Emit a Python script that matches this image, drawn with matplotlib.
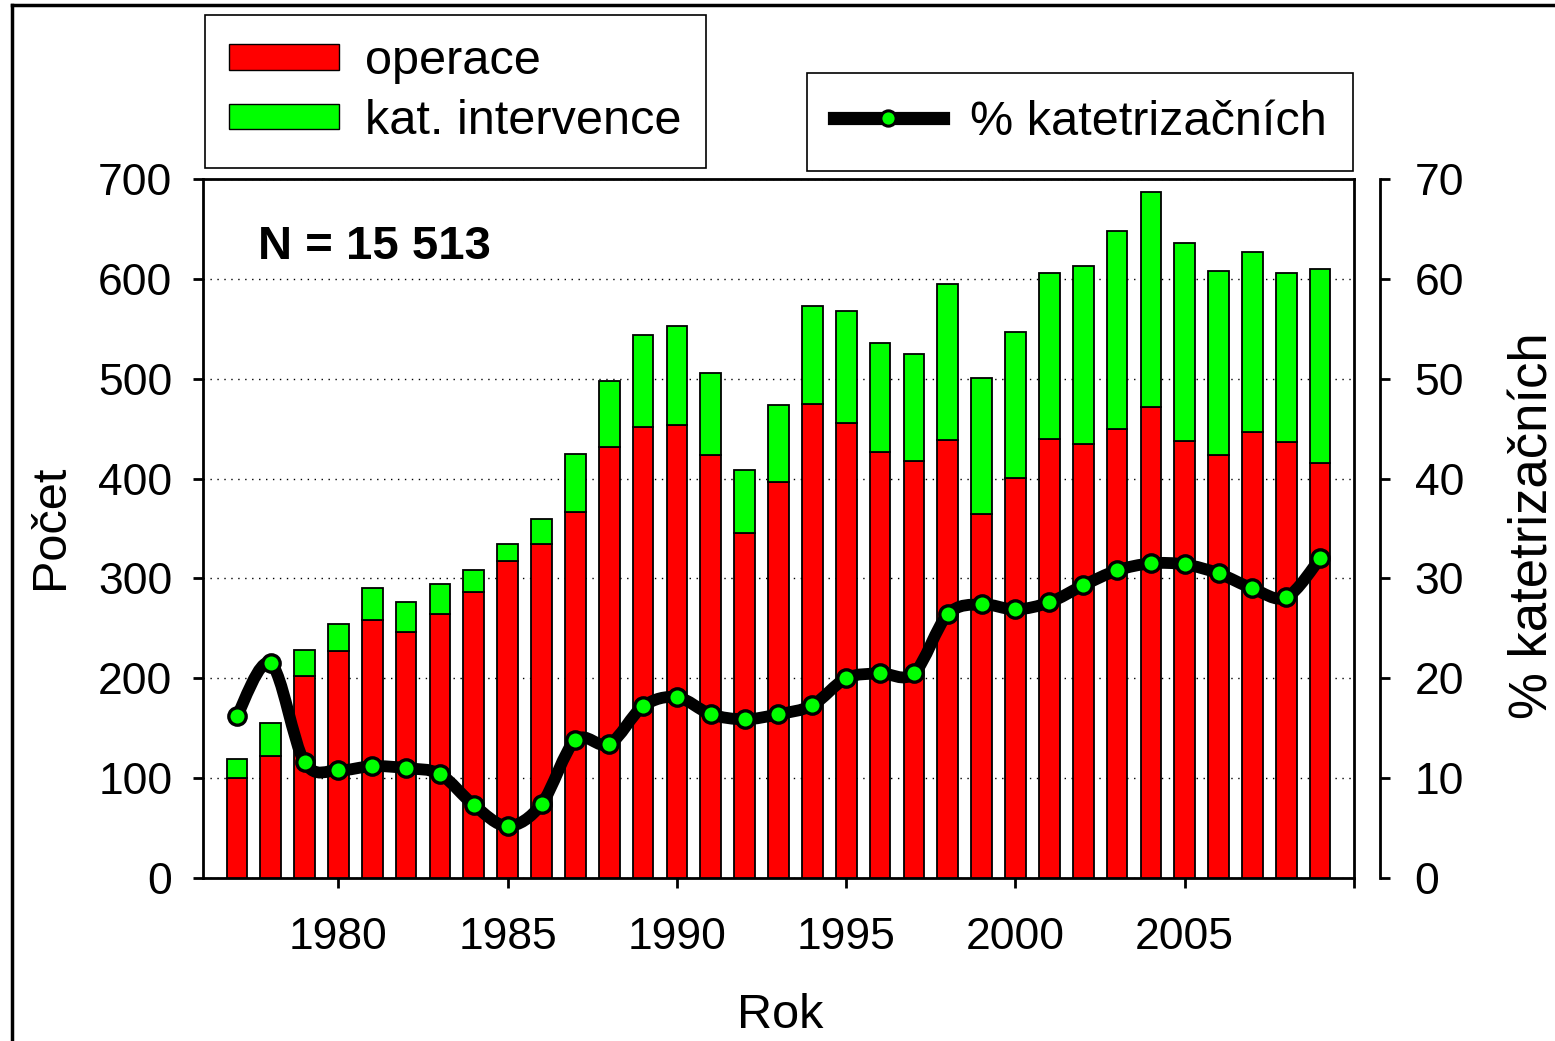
import numpy as np
import matplotlib
matplotlib.use("Agg")
import matplotlib.pyplot as plt
from matplotlib.path import Path
from matplotlib.patches import PathPatch, Patch
from matplotlib.lines import Line2D

plt.rcParams['font.family'] = ['Liberation Sans', 'DejaVu Sans']

years = list(range(1977, 2010))
operace = [100, 122, 202, 227, 258, 246, 264, 286, 317, 334,
           367, 432, 452, 454, 424, 345, 397, 475, 456, 427,
           418, 439, 365, 401, 440, 435, 450, 472, 438, 424,
           447, 437, 416]
intervence = [19, 33, 26, 27, 32, 30, 30, 22, 17, 26,
              58, 66, 92, 99, 82, 64, 77, 98, 112, 109,
              107, 156, 136, 146, 166, 178, 198, 215, 198, 184,
              180, 169, 194]
pct_kat = [16.2, 21.5, 11.6, 10.8, 11.2, 11.0, 10.4, 7.3, 5.2, 7.4,
           13.8, 13.4, 17.2, 18.1, 16.4, 15.9, 16.4, 17.3, 20.0, 20.5,
           20.5, 26.4, 27.4, 26.9, 27.6, 29.3, 30.8, 31.5, 31.4, 30.5,
           29.0, 28.1, 32.0]
xticks = [1980, 1985, 1990, 1995, 2000, 2005, 2010]
xticklabels = ['1980', '1985', '1990', '1995', '2000', '2005', '']
yticks_left = [0, 100, 200, 300, 400, 500, 600, 700]
yticks_right = [0, 10, 20, 30, 40, 50, 60, 70]

RED = '#ff0000'
GREEN = '#00ff00'

W, H = 1555, 1041
fig = plt.figure(figsize=(W / 100, H / 100), dpi=100)
L, R, B, T = 203, 1354, 878, 179
ax = fig.add_axes([L / W, 1 - B / H, (R - L) / W, (B - T) / H])

ax.bar(years, operace, width=0.61, color=RED, edgecolor='black', linewidth=1.3, zorder=3)
ax.bar(years, intervence, width=0.61, bottom=operace, color=GREEN, edgecolor='black',
       linewidth=1.3, zorder=3)

ax.set_xlim(1976, 2010)
ax.set_ylim(0, 700)
ax.set_yticks(yticks_left)
ax.set_xticks(xticks)
ax.set_xticklabels(xticklabels)
ax.yaxis.grid(True, linestyle=(0, (1, 4)), color='black', linewidth=1.0)
for s in ax.spines.values():
    s.set_linewidth(2)
ax.tick_params(axis='both', direction='out', length=7, width=2, labelsize=32)
ax.tick_params(axis='y', pad=15)
ax.tick_params(axis='x', pad=21)

ax2 = ax.twinx()
ax2.set_ylim(0, 70)
ax2.set_yticks(yticks_right)
for k in ['left', 'top', 'bottom']:
    ax2.spines[k].set_visible(False)
ax2.spines['right'].set_position(('outward', 26 * 0.72))
ax2.spines['right'].set_linewidth(2)
ax2.tick_params(axis='y', direction='out', length=7, width=2, labelsize=32, pad=18)

# smooth curve (Catmull-Rom as cubic Bezier) through the percentage points
xs = np.array(years, dtype=float)
ys = np.array(pct_kat, dtype=float)
P = np.column_stack([xs, ys])
Pext = np.vstack([P[0], P, P[-1]])
verts = [tuple(P[0])]
codes = [Path.MOVETO]
for i in range(1, len(Pext) - 2):
    p0, p1, p2, p3 = Pext[i - 1], Pext[i], Pext[i + 1], Pext[i + 2]
    c1 = p1 + (p2 - p0) / 6.0
    c2 = p2 - (p3 - p1) / 6.0
    verts += [tuple(c1), tuple(c2), tuple(p2)]
    codes += [Path.CURVE4] * 3
curve = PathPatch(Path(verts, codes), facecolor='none', edgecolor='black', linewidth=8.5,
                  capstyle='round', joinstyle='round', zorder=4)
ax2.add_patch(curve)
ax2.plot(years, pct_kat, linestyle='none', marker='o', markersize=12.5,
         markerfacecolor=GREEN, markeredgecolor='black', markeredgewidth=2.4, zorder=5)

ax.text(0.048, 0.885, 'N = 15 513', transform=ax.transAxes, fontsize=34,
        fontweight='bold', ha='left', va='baseline')

fig.text(63 / W, 1 - 527 / H, 'Počet', rotation=90, rotation_mode='anchor',
         ha='center', va='baseline', fontsize=35)
fig.text(780 / W, 1 - 1028 / H, 'Rok', ha='center', va='baseline', fontsize=35)
fig.text(1547 / W, 1 - 526 / H, '% katetrizačních', rotation=90, rotation_mode='anchor',
         ha='center', va='baseline', fontsize=38)

h1 = [Patch(facecolor=RED, edgecolor='black', linewidth=1),
      Patch(facecolor=GREEN, edgecolor='black', linewidth=1)]
leg1 = fig.legend(h1, ['operace', 'kat. intervence'], loc='upper left',
                  bbox_to_anchor=(205 / W, 1 - 15 / H), fontsize=35, frameon=True,
                  fancybox=False, edgecolor='black', framealpha=1,
                  handlelength=2.25, handleheight=0.42, handletextpad=0.55,
                  labelspacing=0.3, borderpad=0.5, borderaxespad=0)
leg1.get_frame().set_linewidth(1.2)

h2 = [Line2D([0], [0], color='black', linewidth=9.5, marker='o', markersize=11,
             markerfacecolor=GREEN, markeredgecolor='black', markeredgewidth=2.2)]
leg2 = fig.legend(h2, ['% katetrizačních'], loc='upper left',
                  bbox_to_anchor=(807 / W, 1 - 73 / H), fontsize=35, frameon=True,
                  fancybox=False, edgecolor='black', framealpha=1,
                  handlelength=2.25, handletextpad=0.55, borderpad=0.55, borderaxespad=0)
leg2.get_frame().set_linewidth(1.2)

# outer frame lines
fig.add_artist(Line2D([12 / W, 12 / W], [0, 1 - 5 / H], color='black', linewidth=2.5,
                      transform=fig.transFigure))
fig.add_artist(Line2D([12 / W, 1], [1 - 5 / H, 1 - 5 / H], color='black', linewidth=2.5,
                      transform=fig.transFigure))

fig.savefig('out.png', dpi=100)
